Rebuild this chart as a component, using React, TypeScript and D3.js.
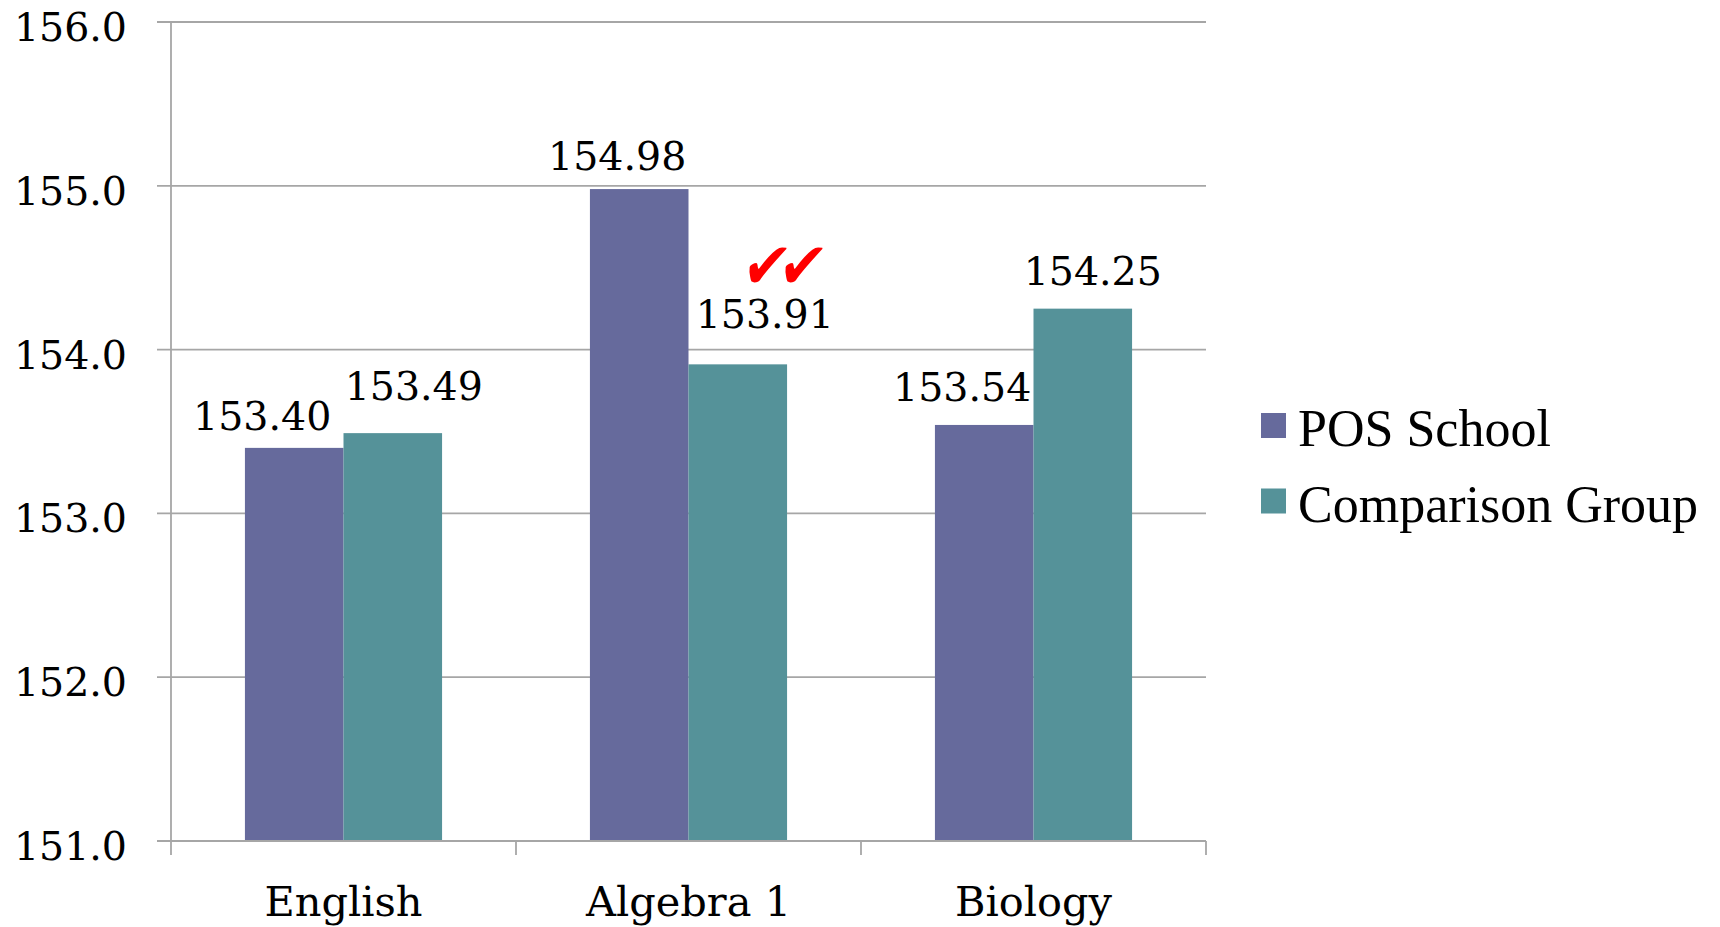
import React from "react";
import * as d3 from "d3";

const categories = ["English", "Algebra 1", "Biology"];
const seriesNames = ["POS School", "Comparison Group"];
const posSchool = [153.4, 154.98, 153.54];
const comparisonGroup = [153.49, 153.91, 154.25];
const yTicks = [151, 152, 153, 154, 155, 156];
const seriesColors = ["#666a9c", "#559299"];

// label nudges (layout), per series per category
const labelDx = [
  [-32, -22, -22],
  [21, 27, 10],
];
const labelDy = [
  [-18, -19, -24],
  [-33, -36, -24],
];

const W = 1720;
const H = 927;
const left = 171;
const right = 1206;
const top = 22;
const bottom = 841;

export default function App() {
  const values = [posSchool, comparisonGroup];
  const y = d3.scaleLinear().domain([151, 156]).range([bottom, top]);
  const x0 = d3.scaleBand<string>().domain(categories).range([left, right]).padding(0);
  const x1 = d3
    .scaleBand<string>()
    .domain(seriesNames)
    .range([0, x0.bandwidth()])
    .paddingInner(0)
    .paddingOuter(0.75);
  const numFont = "'DejaVu Serif', serif";
  const gridColor = "#a6a6a6";
  const boundaries = [...categories.map((c) => x0(c) as number), right];

  return (
    <svg
      width={W}
      height={H}
      style={{ position: "absolute", left: 0, top: 0, background: "#fff" }}
    >
      {/* gridlines and y ticks */}
      {yTicks.map((t) => (
        <g key={t}>
          <line x1={157} x2={right} y1={y(t)} y2={y(t)} stroke={gridColor} strokeWidth={1.8} />
          <text
            x={127}
            y={y(t) + 19}
            textAnchor="end"
            fontFamily={numFont}
            fontSize={39.5}
            fill="#000"
          >
            {d3.format(".1f")(t)}
          </text>
        </g>
      ))}
      {/* y axis */}
      <line x1={left} x2={left} y1={top} y2={bottom} stroke={gridColor} strokeWidth={1.8} />
      {/* x ticks */}
      {boundaries.map((b, i) => (
        <line key={i} x1={b} x2={b} y1={bottom} y2={855} stroke={gridColor} strokeWidth={1.8} />
      ))}
      {/* bars */}
      {categories.map((c, ci) =>
        seriesNames.map((s, si) => {
          const v = values[si][ci];
          const bx = (x0(c) as number) + (x1(s) as number);
          return (
            <rect
              key={c + s}
              x={bx}
              y={y(v)}
              width={x1.bandwidth()}
              height={y(151) - y(v)}
              fill={seriesColors[si]}
            />
          );
        })
      )}
      {/* baseline on top of bars */}
      <line x1={157} x2={right} y1={y(151)} y2={y(151)} stroke={gridColor} strokeWidth={1.8} />
      {/* data labels */}
      {categories.map((c, ci) =>
        seriesNames.map((s, si) => {
          const v = values[si][ci];
          const cx = (x0(c) as number) + (x1(s) as number) + x1.bandwidth() / 2;
          return (
            <text
              key={"l" + c + s}
              x={cx + labelDx[si][ci]}
              y={y(v) + labelDy[si][ci]}
              textAnchor="middle"
              fontFamily={numFont}
              fontSize={39.5}
              fill="#000"
            >
              {d3.format(".2f")(v)}
            </text>
          );
        })
      )}
      {/* check marks */}
      <text
        x={0}
        y={0}
        textAnchor="middle"
        fontFamily="'DejaVu Sans', sans-serif"
        fontWeight="bold"
        fontSize={56}
        fill="#ff0000"
        letterSpacing={-11}
        transform="translate(776,288) scale(1,1.15) skewX(-10)"
      >
        ✔✔
      </text>
      {/* category labels */}
      {categories.map((c) => (
        <text
          key={"c" + c}
          x={(x0(c) as number) + x0.bandwidth() / 2}
          y={916}
          textAnchor="middle"
          fontFamily={numFont}
          fontSize={41.5}
          fill="#000"
        >
          {c}
        </text>
      ))}
      {/* legend */}
      {seriesNames.map((s, i) => (
        <g key={"lg" + s}>
          <rect x={1261} y={413 + i * 75.5} width={25} height={25} fill={seriesColors[i]} />
          <text
            x={1298}
            y={446 + i * 76}
            fontFamily="'Liberation Serif', serif"
            fontSize={52}
            fill="#000"
          >
            {s}
          </text>
        </g>
      ))}
    </svg>
  );
}
